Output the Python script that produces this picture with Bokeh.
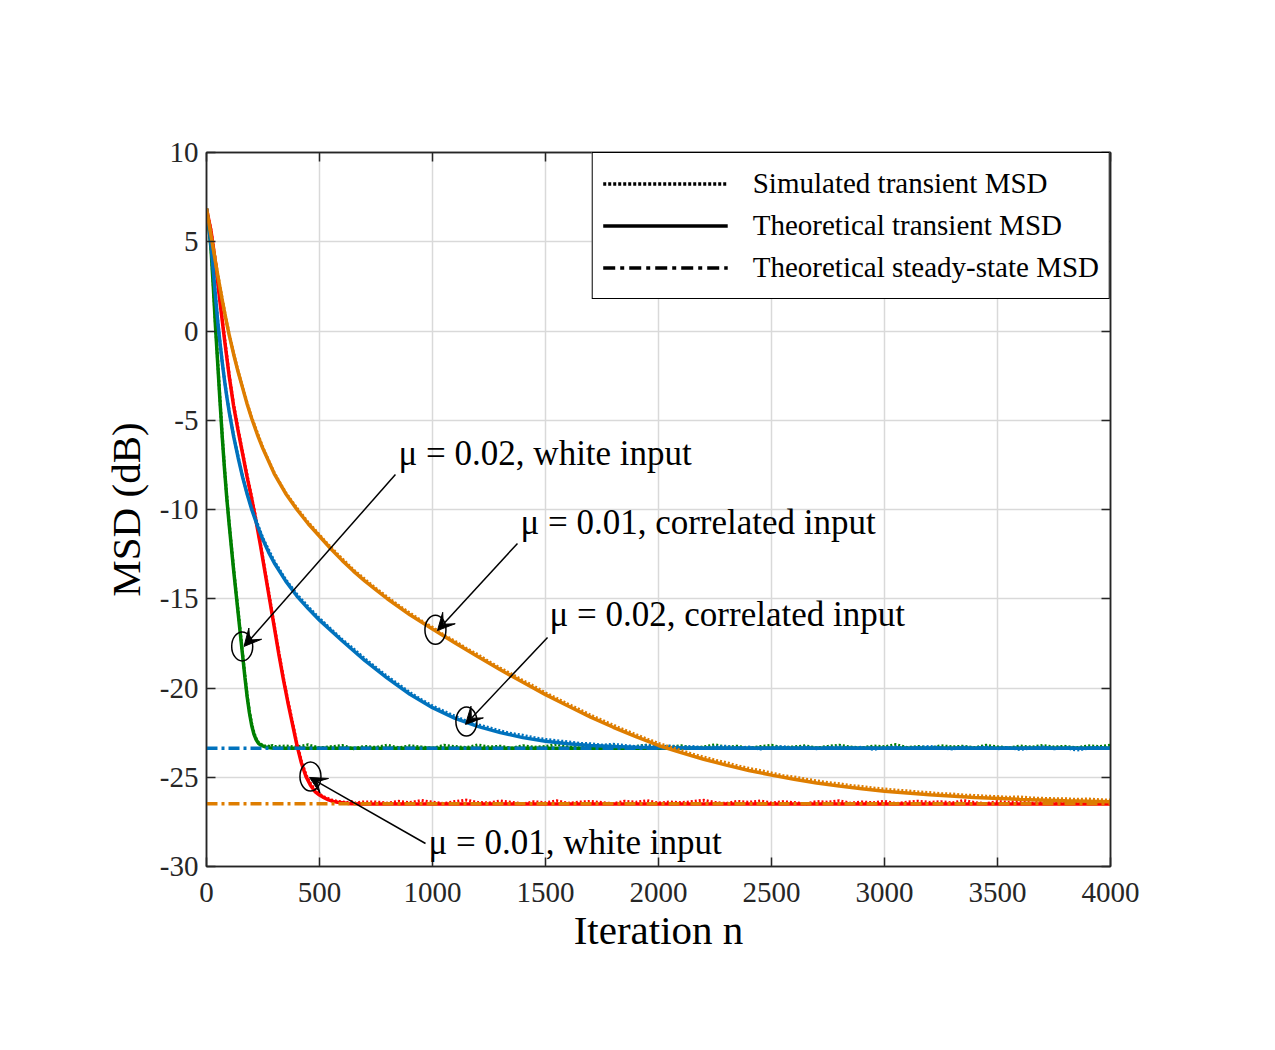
from bokeh.plotting import figure
from bokeh.models import (Range1d, SingleIntervalTicker, LinearAxis, Legend, LegendItem,
                          Arrow, VeeHead, Label, CustomJSTickFormatter)
from bokeh.embed import file_html
from bokeh.resources import INLINE

# ---------------- data: MSD (dB) versus iteration n ----------------
# mu = 0.02, white input (green)
g_n_th = [0, 10, 20, 30, 40, 50, 60, 70, 80, 90, 100, 110, 120, 130, 140, 150, 160, 170,
          180, 190, 200, 210, 220, 230, 240, 260, 280, 300, 4000]
g_db_th = [6.86, 5.9, 4.6, 2.5, 0.2, -1.9, -4.0, -6.0, -7.8, -9.4, -10.8, -12.1, -13.4,
           -14.6, -15.8, -17.0, -18.2, -19.4, -20.5, -21.4, -22.1, -22.6, -22.9, -23.1,
           -23.2, -23.3, -23.35, -23.38, -23.38]
g_n_sim = list(range(0, 301, 10)) + list(range(350, 4001, 50))
g_db_sim = [6.86, 5.95, 4.7, 2.6, 0.3, -1.8, -3.9, -5.9, -7.7, -9.3,
            -10.7, -12.0, -13.3, -14.5, -15.7, -16.9, -18.1, -19.3, -20.4, -21.3,
            -22.0, -22.5, -22.85, -23.05, -23.15, -23.2, -23.25, -23.2, -23.3, -23.22,
            -23.28,
            -23.25, -23.31, -23.18, -23.36, -23.29, -23.22, -23.4, -23.27, -23.33, -23.2,
            -23.35, -23.24, -23.3, -23.38, -23.21, -23.28, -23.34, -23.19, -23.3, -23.26,
            -23.37, -23.23, -23.32, -23.28, -23.15, -23.3, -23.36, -23.25, -23.31, -23.22,
            -23.4, -23.27, -23.2, -23.33, -23.29, -23.24, -23.35, -23.3, -23.18, -23.32,
            -23.26, -23.38, -23.28, -23.21, -23.34, -23.3, -23.24, -23.36, -23.27, -23.2,
            -23.31, -23.35, -23.25, -23.29, -23.17, -23.33, -23.28, -23.37, -23.23, -23.3,
            -23.26, -23.34, -23.21, -23.29, -23.36, -23.25, -23.31, -23.22, -23.3, -23.27,
            -23.35, -23.24, -23.28, -23.2]

# mu = 0.01, white input (red)
r_n_th = list(range(0, 701, 20)) + [4000]
r_db_th = [6.86, 5.6, 3.8, 1.6, -0.5, -2.5, -4.2, -5.6, -6.9, -8.2,
           -9.4, -10.7, -12.1, -13.6, -15.1, -16.6, -18.1, -19.5, -20.8, -22.0,
           -23.2, -24.2, -24.95, -25.45, -25.8, -26.0, -26.15, -26.27, -26.35, -26.4,
           -26.43, -26.46, -26.48, -26.49, -26.5, -26.5,
           -26.5]
r_n_sim = list(range(0, 701, 20)) + list(range(750, 4001, 50))
r_db_sim = [6.86, 5.65, 3.85, 1.7, -0.4, -2.4, -4.1, -5.5, -6.8, -8.1,
            -9.3, -10.6, -12.0, -13.5, -15.0, -16.5, -18.0, -19.4, -20.7, -21.9,
            -23.1, -24.1, -24.85, -25.35, -25.7, -25.95, -26.1, -26.2, -26.3, -26.35,
            -26.38, -26.42, -26.36, -26.45, -26.4, -26.38,
            -26.38, -26.45, -26.35, -26.42, -26.3, -26.4, -26.47, -26.36, -26.28, -26.41,
            -26.44, -26.33, -26.4, -26.5, -26.37, -26.43, -26.32, -26.46, -26.39, -26.35,
            -26.42, -26.48, -26.34, -26.4, -26.31, -26.45, -26.38, -26.43, -26.36, -26.29,
            -26.41, -26.47, -26.35, -26.4, -26.33, -26.44, -26.37, -26.42, -26.5, -26.36,
            -26.4, -26.32, -26.45, -26.38, -26.43, -26.35, -26.47, -26.39, -26.34, -26.41,
            -26.37, -26.44, -26.3, -26.42, -26.48, -26.36, -26.4, -26.33, -26.45, -26.38,
            -26.43, -26.35, -26.41, -26.47, -26.37, -26.4]

# mu = 0.02, correlated input (blue)
b_n_th = [0, 10, 20, 30, 40, 50, 60, 70, 80, 90, 100, 120, 140, 160, 180, 200, 225, 250,
          275, 300, 350, 400, 450, 500, 600, 700, 800, 900, 1000, 1100, 1200, 1300, 1400,
          1500, 1600, 1700, 1800, 1900, 2000, 2200, 2500, 4000]
b_db_th = [6.86, 5.9, 4.8, 3.4, 1.9, 0.5, -0.7, -1.8, -2.8, -3.7, -4.5,
           -5.9, -7.1, -8.2, -9.15, -10.0,
           -10.9, -11.7, -12.4, -13.0,
           -14.0, -14.85, -15.55, -16.2,
           -17.35, -18.45, -19.45, -20.35, -21.1, -21.7, -22.15, -22.5, -22.78, -22.98,
           -23.12, -23.22, -23.28, -23.32, -23.35,
           -23.37, -23.38, -23.38]
b_n_sim = list(range(0, 101, 10)) + list(range(120, 201, 20)) + list(range(250, 4001, 50))
b_db_sim = [6.86, 5.95, 4.85, 3.45, 1.95, 0.55, -0.65, -1.75, -2.75, -3.65, -4.45,
            -5.85, -7.05, -8.15, -9.1, -9.95,
            -11.62, -12.9, -13.92, -14.75, -15.45, -16.1, -16.7, -17.28, -17.8, -18.35,
            -18.85, -19.35, -19.8, -20.25, -20.65, -21.0, -21.3, -21.58, -21.85, -22.05,
            -22.22, -22.4, -22.55, -22.65, -22.78, -22.88, -22.95, -23.02, -23.1, -23.12,
            -23.2, -23.15, -23.22, -23.28, -23.2, -23.3, -23.25, -23.32, -23.27, -23.35,
            -23.3, -23.26, -23.36, -23.31, -23.42, -23.33, -23.28, -23.37, -23.3, -23.4,
            -23.34, -23.29, -23.38, -23.32, -23.44, -23.35, -23.3, -23.39, -23.33, -23.27,
            -23.36, -23.42, -23.31, -23.37, -23.3, -23.4, -23.34, -23.45, -23.36, -23.3,
            -23.41, -23.35, -23.48, -23.38, -23.33, -23.37]

# mu = 0.01, correlated input (orange)
o_n_th = [0, 10, 20, 30, 40, 50, 60, 70, 80, 90, 100, 120, 140, 160, 180, 200, 225, 250,
          275, 300, 350, 400, 450, 500, 550, 600, 650, 700, 750, 800, 900, 1000, 1100,
          1200, 1300, 1400, 1500, 1600, 1700, 1800, 1900, 2000, 2100, 2200, 2300, 2400,
          2500, 2600, 2700, 2800, 2900, 3000, 3200, 3400, 3600, 3800, 4000]
o_db_th = [6.86, 6.1, 5.35, 4.6, 3.85, 3.1, 2.4, 1.7, 1.05, 0.4, -0.2,
           -1.3, -2.3, -3.2, -4.1, -4.9,
           -5.8, -6.6, -7.3, -8.0,
           -9.1, -10.0, -10.8, -11.5, -12.2, -12.85, -13.45, -14.0, -14.5, -15.0,
           -15.9, -16.7, -17.48, -18.24, -18.98, -19.68, -20.37, -21.01, -21.63, -22.2,
           -22.73, -23.22, -23.62, -23.99, -24.32, -24.62, -24.88, -25.11, -25.32, -25.49,
           -25.65, -25.78,
           -25.98, -26.13, -26.24, -26.32, -26.37]
o_n_sim = list(range(0, 201, 20)) + list(range(250, 4001, 50))
o_db_sim = [6.86, 5.4, 3.9, 2.45, 1.1, -0.15, -1.25, -2.25, -3.15, -4.05, -4.85,
            -6.55, -7.95, -9.05, -9.92, -10.72, -11.42, -12.12, -12.75, -13.37, -13.9,
            -14.42, -14.9, -15.37, -15.8, -16.22, -16.6, -17.02, -17.38, -17.78, -18.12,
            -18.52, -18.88, -19.22, -19.58, -19.9, -20.27, -20.58, -20.9, -21.2, -21.52,
            -21.8, -22.08, -22.36, -22.6, -22.86, -23.1, -23.3, -23.5, -23.7, -23.86,
            -24.04, -24.18, -24.36, -24.5, -24.62, -24.76, -24.9, -24.98, -25.1, -25.2,
            -25.3, -25.36, -25.46, -25.52, -25.6, -25.66, -25.72, -25.76, -25.82, -25.86,
            -25.92, -25.94, -26.0, -26.02, -26.06, -26.08, -26.12, -26.1, -26.16, -26.18,
            -26.2, -26.2, -26.24, -26.22, -26.26, -26.28]

# theoretical steady-state MSD levels (dB)
ss_n = [0, 4000]
ss_db_mu02 = -23.38
ss_db_mu01 = -26.49

# annotation texts
note_texts = ["μ = 0.02, white input", "μ = 0.01, correlated input",
              "μ = 0.02, correlated input", "μ = 0.01, white input"]

# ---------------- styling ----------------
GREEN = "#008000"
RED = "#FF0000"
BLUE = "#0072BD"
ORANGE = "#DE7D00"
AX = "#262626"
SERIF = "Liberation Serif"
SIM_DASH = "2 2"
SS_DASH = "11 4 3 4"
LW = 3.5
NAN = float("nan")

p = figure(width=1275, height=1050, output_backend="svg", toolbar_location=None,
           x_range=Range1d(0, 4000), y_range=Range1d(-30, 10),
           min_border_left=206, min_border_right=165, min_border_top=152,
           min_border_bottom=184,
           x_axis_label="Iteration n", y_axis_label="MSD (dB)")
p.background_fill_color = "white"
p.border_fill_color = "white"
p.outline_line_color = AX
p.outline_line_width = 1.5

p.xaxis.ticker = SingleIntervalTicker(interval=500, num_minor_ticks=0)
p.yaxis.ticker = SingleIntervalTicker(interval=5, num_minor_ticks=0)
p.yaxis.formatter = CustomJSTickFormatter(code="return tick.toString();")

for ax in (p.xaxis[0], p.yaxis[0]):
    ax.axis_line_color = AX
    ax.axis_line_width = 1.5
    ax.major_tick_in = 9
    ax.major_tick_out = 0
    ax.major_tick_line_color = AX
    ax.major_tick_line_width = 1.5
    ax.minor_tick_line_color = None
    ax.major_label_text_font = SERIF
    ax.major_label_text_font_size = "29px"
    ax.major_label_text_color = AX
    ax.axis_label_text_font = SERIF
    ax.axis_label_text_font_size = "41px"
    ax.axis_label_text_font_style = "normal"
    ax.axis_label_text_color = "black"

p.xaxis.major_label_standoff = 16
p.yaxis.major_label_standoff = 8
p.xaxis.axis_label_standoff = 2
p.yaxis.axis_label_standoff = 8

# box ticks on the top and right sides (no labels there)
for place, step in (("above", 500), ("right", 5)):
    extra = LinearAxis(ticker=SingleIntervalTicker(interval=step, num_minor_ticks=0),
                       axis_line_color=AX, axis_line_width=1.5,
                       major_tick_in=9, major_tick_out=0,
                       major_tick_line_color=AX, major_tick_line_width=1.5,
                       minor_tick_line_color=None,
                       major_label_text_color=None)
    p.add_layout(extra, place)

p.xgrid.grid_line_color = "#d9d9d9"
p.ygrid.grid_line_color = "#d9d9d9"
p.xgrid.grid_line_width = 1.5
p.ygrid.grid_line_width = 1.5

# green and red curves (white input)
p.line(g_n_sim, g_db_sim, line_color=GREEN, line_width=3, line_dash=SIM_DASH)
p.line(g_n_th, g_db_th, line_color=GREEN, line_width=LW)
p.line(r_n_sim, r_db_sim, line_color=RED, line_width=3, line_dash=SIM_DASH)
p.line(r_n_th, r_db_th, line_color=RED, line_width=LW)

# steady-state levels
p.line(ss_n, [ss_db_mu02] * len(ss_n), line_color=BLUE, line_width=LW, line_dash=SS_DASH)
p.line(ss_n, [ss_db_mu01] * len(ss_n), line_color=ORANGE, line_width=LW, line_dash=SS_DASH)

# blue and orange curves (correlated input)
p.line(b_n_sim, b_db_sim, line_color=BLUE, line_width=3, line_dash=SIM_DASH)
p.line(b_n_th, b_db_th, line_color=BLUE, line_width=LW)
p.line(o_n_sim, o_db_sim, line_color=ORANGE, line_width=3, line_dash=SIM_DASH)
p.line(o_n_th, o_db_th, line_color=ORANGE, line_width=LW)

# circles marking each curve, arrows and their captions
circ_n = [158, 1013, 1150, 460]
circ_db = [-17.67, -16.74, -21.88, -24.96]
p.ellipse(x=circ_n, y=circ_db, width=21, height=29, width_units="screen",
          height_units="screen", fill_color=None, line_color="black", line_width=1.5)

arrow_from = [(836, -8.04), (1376, -11.9), (1509, -17.17), (969, -28.71)]
arrow_to = [(166, -17.67), (1022, -16.78), (1146, -22.04), (456, -25.01)]
for (x0, y0), (x1, y1) in zip(arrow_from, arrow_to):
    p.add_layout(Arrow(end=VeeHead(size=17, fill_color="black", line_color="black",
                                   line_width=1),
                       x_start=x0, y_start=y0, x_end=x1, y_end=y1,
                       line_color="black", line_width=1.5))

note_pos = [(850, -6.86), (1389, -10.73), (1518, -15.88), (982, -28.66)]
for txt, (tx, ty) in zip(note_texts, note_pos):
    p.add_layout(Label(x=tx, y=ty, text=txt, text_font=SERIF, text_font_size="35px",
                       text_baseline="middle", text_align="left", text_color="black"))

# legend keys (black samples of each line style, nothing drawn in the frame)
k_sim = p.line([NAN, NAN], [NAN, NAN], line_color="black", line_width=3.5,
               line_dash="3 2")
k_th = p.line([NAN, NAN], [NAN, NAN], line_color="black", line_width=3.5)
k_ss = p.line([NAN, NAN], [NAN, NAN], line_color="black", line_width=3.5,
              line_dash="12 5 4 5")
legend = Legend(items=[LegendItem(label="Simulated transient MSD", renderers=[k_sim]),
                       LegendItem(label="Theoretical transient MSD", renderers=[k_th]),
                       LegendItem(label="Theoretical steady-state MSD", renderers=[k_ss])],
                location="top_right", margin=0, padding=10, spacing=1,
                label_height=41, glyph_height=41, glyph_width=125, label_standoff=25,
                label_text_font=SERIF, label_text_font_size="29px",
                label_text_color="black",
                border_line_color="black", border_line_width=1.5, border_line_alpha=1.0,
                background_fill_color="white", background_fill_alpha=1.0)
p.add_layout(legend)

open("out.html", "w").write(file_html(p, INLINE))
